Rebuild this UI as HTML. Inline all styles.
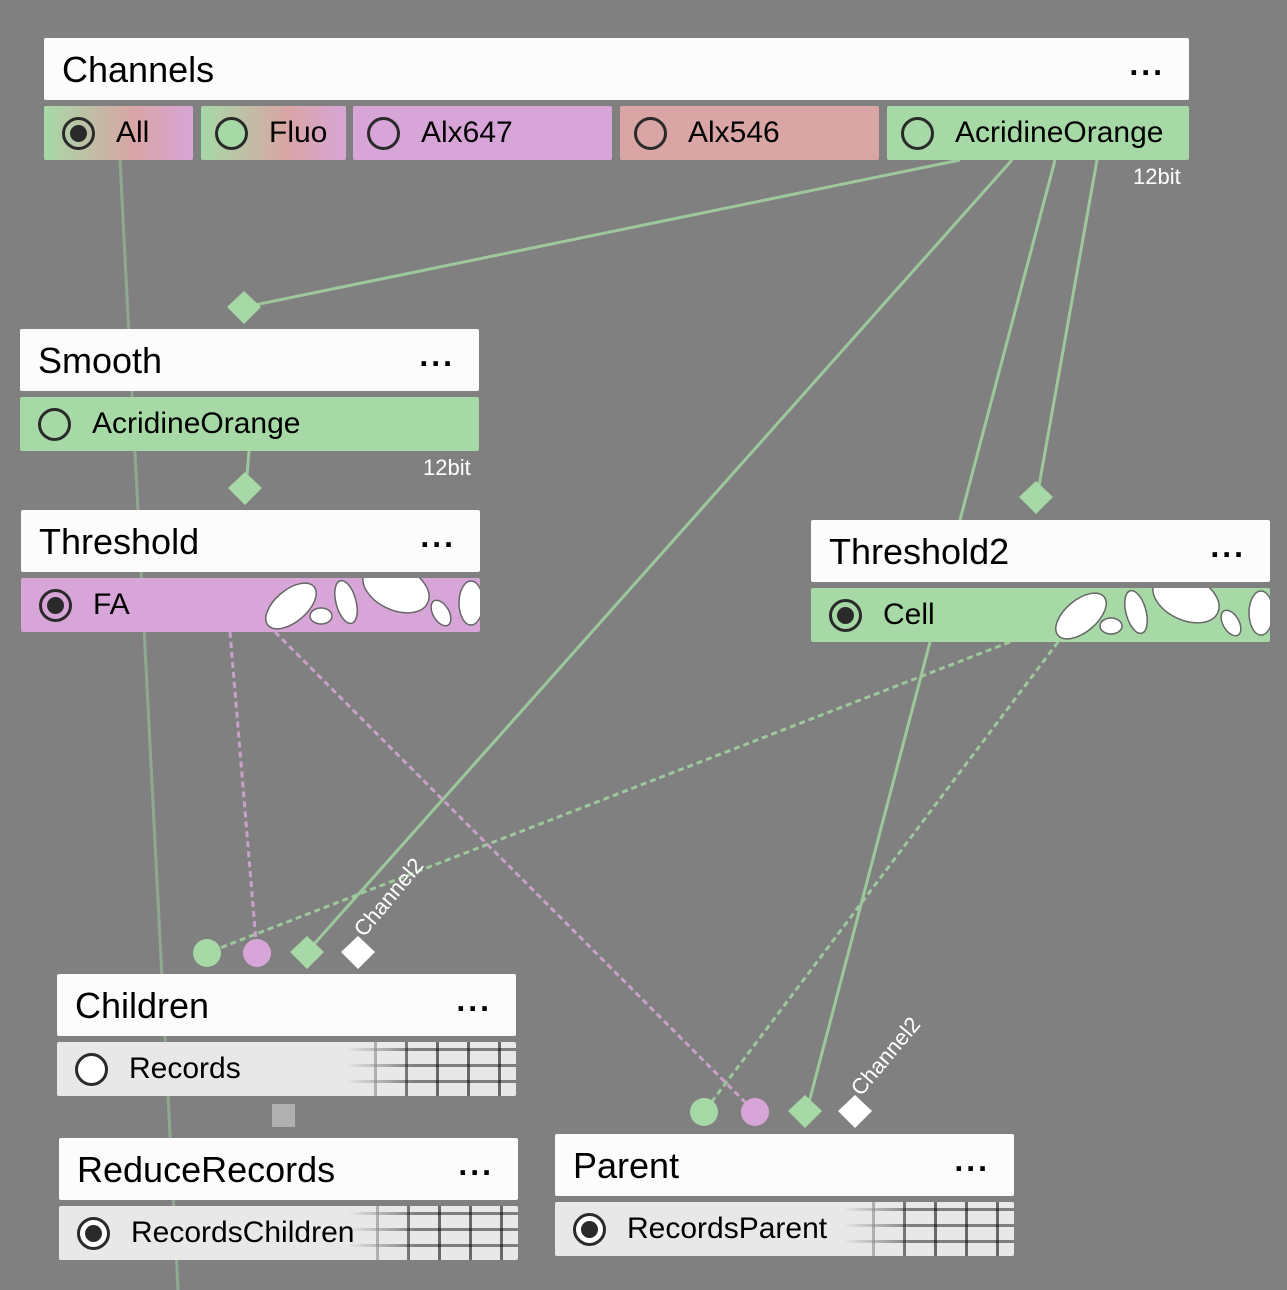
<!DOCTYPE html>
<html><head><style>
body{margin:0;width:1287px;height:1290px;background:#808080;position:relative;overflow:hidden;font-family:"Liberation Sans",sans-serif}
.h{position:absolute;background:#fcfcfc;border-radius:2px;font-size:36px;color:#000;box-sizing:border-box;padding-left:18px;line-height:64px;height:62px}
.h .d{position:absolute;right:24px;top:-6px;font-size:32px;letter-spacing:3px;font-weight:bold}
.r{position:absolute;height:54px;font-size:30px;line-height:54px;box-sizing:border-box;padding-left:78px;color:#000;border-radius:2px;overflow:hidden}
.rad{position:absolute;left:18px;top:11px;width:27px;height:27px;border:3px solid #2a2a2a;border-radius:50%}
.rad.on::after{content:"";position:absolute;left:5px;top:5px;width:17px;height:17px;border-radius:50%;background:#2a2a2a}
.g{background:#a6d9a6}.p{background:#d8a5d8}.s{background:#d9a5a5}.w{background:#e8e8e8}
.sm{position:absolute;color:#fff;font-size:22px}
.grid{position:absolute;right:0;top:0;width:170px;height:54px;background:
repeating-linear-gradient(90deg,transparent 0 28px,rgba(0,0,0,.55) 28px 31px),
repeating-linear-gradient(0deg,transparent 0 13px,rgba(0,0,0,.45) 13px 16px);
-webkit-mask-image:linear-gradient(90deg,transparent,#000 40%);mask-image:linear-gradient(90deg,transparent,#000 40%)}
</style></head><body>
<svg width="1287" height="1290" style="position:absolute;left:0;top:0">
<g stroke="#9cc89c" stroke-width="3" fill="none">
<line x1="120" y1="160" x2="178" y2="1290" stroke="#8fa88f" stroke-width="3"/>
<line x1="960" y1="160" x2="245" y2="307"/>
<line x1="249" y1="451" x2="246" y2="488"/>
<line x1="1012" y1="160" x2="307" y2="952"/>
<line x1="1055" y1="160" x2="960" y2="520"/>
<line x1="930" y1="642" x2="807" y2="1110"/>
<line x1="1097" y1="160" x2="1037" y2="497"/>
<line x1="1010" y1="642" x2="207" y2="953" stroke-dasharray="6,4"/>
<line x1="1058" y1="642" x2="704" y2="1112" stroke-dasharray="6,4"/>
</g>
<g stroke="#c9a0c9" stroke-width="3" stroke-dasharray="6,4">
<line x1="230" y1="632" x2="257" y2="953"/>
<line x1="275" y1="632" x2="755" y2="1112"/>
</g>
<g fill="#a6d9a6">
<polygon points="244,291 261,307 244,324 227,307"/>
<polygon points="245,472 262,488 245,505 228,488"/>
<polygon points="1036,481 1053,497 1036,514 1019,497"/>
<polygon points="307,936 324,952 307,969 290,952"/>
<polygon points="805,1095 822,1111 805,1128 788,1111"/>
<circle cx="207" cy="953" r="14"/><circle cx="704" cy="1112" r="14"/>
</g>
<g fill="#d8a5d8"><circle cx="257" cy="953" r="14"/><circle cx="755" cy="1112" r="14"/></g>
<g fill="#fff"><polygon points="358,936 375,952 358,969 341,952"/><polygon points="855,1095 872,1111 855,1128 838,1111"/></g>
<rect x="272" y="1104" width="23" height="23" fill="#b0b0b0"/>
<text x="0" y="0" fill="#fff" font-size="22" font-family="Liberation Sans,sans-serif" transform="translate(364,938) rotate(-50)">Channel2</text>
<text x="0" y="0" fill="#fff" font-size="22" font-family="Liberation Sans,sans-serif" transform="translate(861,1097) rotate(-50)">Channel2</text>
</svg>

<div class="h" style="left:44px;top:38px;width:1145px">Channels<span class="d">...</span></div>
<div class="r" style="left:44px;top:106px;width:149px;padding-left:72px;background:linear-gradient(90deg,#a6d9a6,#d9a5a5 60%,#d8a5d8)"><span class="rad on"></span>All</div>
<div class="r" style="left:201px;top:106px;width:145px;padding-left:68px;background:linear-gradient(90deg,#a6d9a6,#d9a5a5 60%,#d8a5d8)"><span class="rad" style="left:14px;background:#a6d9a6"></span>Fluo</div>
<div class="r p" style="left:353px;top:106px;width:259px;padding-left:68px"><span class="rad" style="left:14px"></span>Alx647</div>
<div class="r s" style="left:620px;top:106px;width:259px;padding-left:68px"><span class="rad" style="left:14px"></span>Alx546</div>
<div class="r g" style="left:887px;top:106px;width:302px;padding-left:68px"><span class="rad" style="left:14px"></span>AcridineOrange</div>
<div class="sm" style="left:1133px;top:164px">12bit</div>

<div class="h" style="left:20px;top:329px;width:459px">Smooth<span class="d">...</span></div>
<div class="r g" style="left:20px;top:397px;width:459px;padding-left:72px"><span class="rad"></span>AcridineOrange</div>
<div class="sm" style="left:423px;top:455px">12bit</div>

<div class="h" style="left:21px;top:510px;width:459px">Threshold<span class="d">...</span></div>
<div class="r p" style="left:21px;top:578px;width:459px;padding-left:72px"><span class="rad on"></span>FA
<svg style="position:absolute;left:240px;top:0" width="220" height="54"><g fill="#fff" stroke="#666" stroke-width="1.5">
<ellipse cx="30" cy="28" rx="16" ry="30" transform="rotate(50 30 28)"/><ellipse cx="60" cy="38" rx="11" ry="8"/>
<ellipse cx="85" cy="24" rx="10" ry="22" transform="rotate(-15 85 24)"/><ellipse cx="135" cy="10" rx="35" ry="22" transform="rotate(25 135 10)"/>
<ellipse cx="180" cy="35" rx="8" ry="14" transform="rotate(-30 180 35)"/><ellipse cx="210" cy="25" rx="12" ry="22"/></g></svg></div>

<div class="h" style="left:811px;top:520px;width:459px">Threshold2<span class="d">...</span></div>
<div class="r g" style="left:811px;top:588px;width:459px;padding-left:72px"><span class="rad on"></span>Cell
<svg style="position:absolute;left:240px;top:0" width="220" height="54"><g fill="#fff" stroke="#666" stroke-width="1.5">
<ellipse cx="30" cy="28" rx="16" ry="30" transform="rotate(50 30 28)"/><ellipse cx="60" cy="38" rx="11" ry="8"/>
<ellipse cx="85" cy="24" rx="10" ry="22" transform="rotate(-15 85 24)"/><ellipse cx="135" cy="10" rx="35" ry="22" transform="rotate(25 135 10)"/>
<ellipse cx="180" cy="35" rx="8" ry="14" transform="rotate(-30 180 35)"/><ellipse cx="210" cy="25" rx="12" ry="22"/></g></svg></div>

<div class="h" style="left:57px;top:974px;width:459px">Children<span class="d">...</span></div>
<div class="r w" style="left:57px;top:1042px;width:459px;padding-left:72px"><span class="rad" style="background:#fff"></span>Records<div class="grid"></div></div>

<div class="h" style="left:59px;top:1138px;width:459px">ReduceRecords<span class="d">...</span></div>
<div class="r w" style="left:59px;top:1206px;width:459px;padding-left:72px"><span class="rad on" style="background:#fff"></span>RecordsChildren<div class="grid"></div></div>

<div class="h" style="left:555px;top:1134px;width:459px">Parent<span class="d">...</span></div>
<div class="r w" style="left:555px;top:1202px;width:459px;padding-left:72px"><span class="rad on" style="background:#fff"></span>RecordsParent<div class="grid"></div></div>
</body></html>
